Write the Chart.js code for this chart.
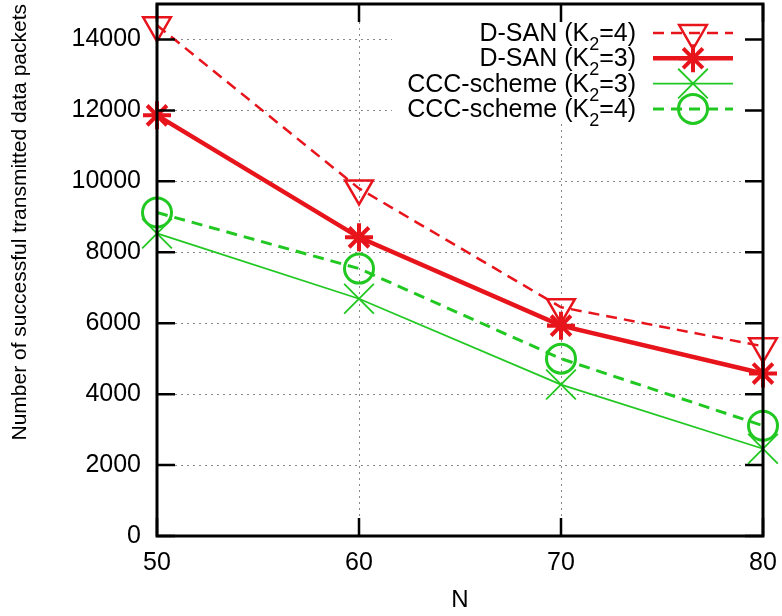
<!DOCTYPE html>
<html>
<head>
<meta charset="utf-8">
<script src="https://cdn.jsdelivr.net/npm/chart.js@4.4.0/dist/chart.umd.min.js"></script>
<style>
  html, body { margin: 0; padding: 0; background: #fff; }
</style>
</head>
<body>
<canvas id="packets" width="782" height="616"></canvas>
<script>
// values
const nodes = [50, 60, 70, 80];
const dsanK4 = [14400, 9800, 6450, 5350];
const dsanK3 = [11860, 8420, 5930, 4580];
const cccK3 = [8530, 6690, 4270, 2460];
const cccK4 = [9120, 7540, 5000, 3110];

const xTicks = [50, 60, 70, 80];
const yTicks = [0, 2000, 4000, 6000, 8000, 10000, 12000, 14000];

// legend labels: [before subscript, subscript, after]
const names = [
  ["D-SAN (K", "2", "=4)"],
  ["D-SAN (K", "2", "=3)"],
  ["CCC-scheme (K", "2", "=3)"],
  ["CCC-scheme (K", "2", "=4)"],
];

const RED = "#e8141c";
const GREEN = "#22c822";
const FONT = '"Liberation Sans", Arial, sans-serif';

// styles per series
const styles = [
  { color: RED, width: 2.5, dash: [11, 7], point: "triangle", radius: 16, rot: 180, pw: 2.5 },
  { color: RED, width: 4.5, dash: [], point: "star", radius: 14, rot: 0, pw: 4 },
  { color: GREEN, width: 1.8, dash: [], point: "crossRot", radius: 21, rot: 0, pw: 1.8 },
  { color: GREEN, width: 3, dash: [11, 7], point: "circle", radius: 14.5, rot: 0, pw: 3 },
];
const values = [dsanK4, dsanK3, cccK3, cccK4];

const datasets = values.map((vals, i) => {
  const s = styles[i];
  return {
    label: names[i].join(""),
    data: nodes.map((n, j) => ({ x: n, y: vals[j] })),
    borderColor: s.color,
    borderWidth: s.width,
    borderDash: s.dash,
    pointStyle: s.point,
    pointRadius: s.radius,
    pointHoverRadius: s.radius,
    pointRotation: s.rot,
    pointBorderWidth: s.pw,
    pointBorderColor: s.color,
    pointBackgroundColor: "rgba(0,0,0,0)",
    fill: false,
    tension: 0,
    clip: false,
  };
});

// legend box, inward ticks and frame like gnuplot
const frame = {
  id: "frame",
  beforeDatasetsDraw(chart) {
    const ctx = chart.ctx;
    ctx.save();
    ctx.fillStyle = "#fff";
    ctx.fillRect(392, 8, 368, 114);
    ctx.restore();
  },
  afterDraw(chart) {
    const { ctx, chartArea: a, scales } = chart;
    ctx.save();
    ctx.strokeStyle = "#000";
    ctx.lineWidth = 2.5;
    ctx.setLineDash([]);
    ctx.beginPath();
    yTicks.forEach((v) => {
      const py = scales.y.getPixelForValue(v);
      ctx.moveTo(a.left, py); ctx.lineTo(a.left + 18, py);
      ctx.moveTo(a.right - 18, py); ctx.lineTo(a.right, py);
    });
    xTicks.forEach((v) => {
      const px = scales.x.getPixelForValue(v);
      ctx.moveTo(px, a.bottom); ctx.lineTo(px, a.bottom - 18);
      ctx.moveTo(px, a.top); ctx.lineTo(px, a.top + 18);
    });
    ctx.stroke();
    ctx.lineWidth = 3;
    ctx.strokeRect(a.left, a.top, a.right - a.left, a.bottom - a.top);

    // legend
    const textRight = 636;
    names.forEach((nm, i) => {
      const s = styles[i];
      const ly = 33 + i * 25.3;
      ctx.font = "25px " + FONT;
      const w1 = ctx.measureText(nm[0]).width;
      const w3 = ctx.measureText(nm[2]).width;
      ctx.font = "18px " + FONT;
      const w2 = ctx.measureText(nm[1]).width;
      let tx = textRight - (w1 + w2 + w3);
      const base = ly + 8;
      ctx.fillStyle = "#000";
      ctx.textAlign = "left";
      ctx.textBaseline = "alphabetic";
      ctx.font = "25px " + FONT;
      ctx.fillText(nm[0], tx, base);
      tx += w1;
      ctx.font = "18px " + FONT;
      ctx.fillText(nm[1], tx, base + 9);
      tx += w2;
      ctx.font = "25px " + FONT;
      ctx.fillText(nm[2], tx, base);

      ctx.strokeStyle = s.color;
      ctx.lineWidth = s.width;
      ctx.setLineDash(s.dash);
      ctx.beginPath();
      ctx.moveTo(653, ly);
      ctx.lineTo(733, ly);
      ctx.stroke();
      ctx.setLineDash([]);
      ctx.lineWidth = s.pw;
      ctx.fillStyle = "rgba(0,0,0,0)";
      Chart.helpers.drawPoint(ctx, { pointStyle: s.point, radius: s.radius, rotation: s.rot, borderWidth: s.pw }, 693, ly);
    });
    ctx.restore();
  },
};

const noPad = (s) => {
  s.paddingTop = 0; s.paddingBottom = 0; s.paddingLeft = 0; s.paddingRight = 0;
};

const ctx = document.getElementById("packets").getContext("2d");
new Chart(ctx, {
  type: "line",
  data: { datasets },
  plugins: [frame],
  options: {
    responsive: false,
    animation: false,
    layout: { autoPadding: false, padding: { top: 4, right: 19, left: 0, bottom: 0 } },
    plugins: { legend: { display: false }, tooltip: { enabled: false } },
    scales: {
      x: {
        type: "linear",
        min: 50,
        max: 80,
        afterBuildTicks: (s) => { s.ticks = xTicks.map((v) => ({ value: v })); },
        afterFit: (s) => { s.height = 80; noPad(s); },
        grid: { color: "#888", lineWidth: 1, drawTicks: false },
        border: { display: false, dash: [2, 4] },
        ticks: { padding: 15, color: "#000", font: { family: FONT, size: 25, lineHeight: 1 }, callback: (v) => String(v) },
        title: { display: true, text: "N", color: "#000", font: { family: FONT, size: 24, lineHeight: 1 }, padding: { top: 0, bottom: 4 } },
      },
      y: {
        min: 0,
        max: 15000,
        afterBuildTicks: (s) => { s.ticks = yTicks.map((v) => ({ value: v })); },
        afterFit: (s) => { s.width = 157; noPad(s); },
        grid: { color: "#888", lineWidth: 1, drawTicks: false },
        border: { display: false, dash: [2, 4] },
        ticks: { padding: 16, color: "#000", font: { family: FONT, size: 25, lineHeight: 1 }, callback: (v) => String(v) },
        title: {
          display: true,
          text: "Number of successful transmitted data packets",
          align: "end",
          color: "#000",
          font: { family: FONT, size: 21, lineHeight: 1 },
          padding: { top: 10, bottom: 0 },
        },
      },
    },
  },
});
</script>
</body>
</html>
